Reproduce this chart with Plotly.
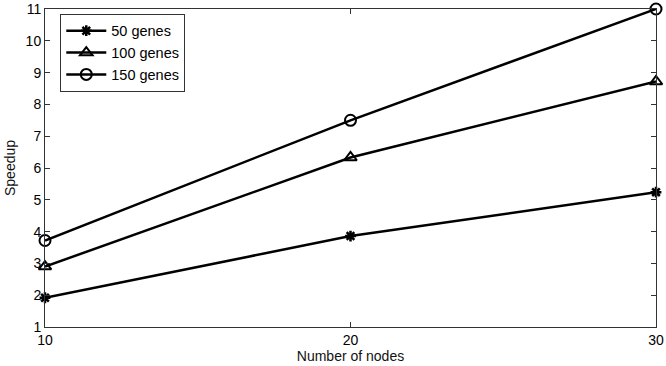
import plotly.graph_objects as go

nodes = [10, 20, 30]
genes50 = [1.92, 3.86, 5.24]
genes100 = [2.9, 6.33, 8.72]
genes150 = [3.72, 7.5, 11.0]
series_names = ["50 genes", "100 genes", "150 genes"]
y_ticks = [1, 2, 3, 4, 5, 6, 7, 8, 9, 10, 11]
x_ticks = [10, 20, 30]

fig = go.Figure()
markers = [
    dict(symbol="asterisk-open", size=9, color="black", line=dict(color="black", width=2.5)),
    dict(symbol="triangle-up-open", size=11, color="black", line=dict(color="black", width=2)),
    dict(symbol="circle-open", size=11, color="black", line=dict(color="black", width=2)),
]
for name, ys, mk in zip(series_names, [genes50, genes100, genes150], markers):
    fig.add_trace(go.Scatter(x=nodes, y=ys, mode="lines+markers", name=name,
                             line=dict(color="black", width=2.5), marker=mk, cliponaxis=False))

axis_common = dict(showline=True, linecolor="#333", linewidth=1, mirror="ticks",
                   ticks="inside", ticklen=5, tickcolor="#333", showgrid=False,
                   zeroline=False, tickfont=dict(size=14, color="black"))
fig.update_xaxes(range=[10, 30], tickvals=x_ticks, automargin=False,
                 title=dict(text="Number of nodes", font=dict(size=14, color="#111"), standoff=0), **axis_common)
fig.update_yaxes(range=[1, 11], tickvals=y_ticks, automargin=False,
                 title=dict(text="Speedup", font=dict(size=14, color="#111"), standoff=6), **axis_common)

fig.update_layout(
    template="none",
    width=666, height=366,
    margin=dict(l=45, r=10, t=9, b=39, autoexpand=False),
    paper_bgcolor="white", plot_bgcolor="white",
    font=dict(family="Liberation Sans, Arial, sans-serif", size=14, color="black"),
    legend=dict(x=0.025, y=0.985, xanchor="left", yanchor="top",
                bordercolor="#333", borderwidth=1, bgcolor="white",
                font=dict(size=14.5), itemwidth=40, tracegroupgap=0),
    showlegend=True,
)
fig.write_html("out.html", config={"displayModeBar": False},
               post_script="document.body.style.margin='0';document.body.style.overflow='hidden';")
